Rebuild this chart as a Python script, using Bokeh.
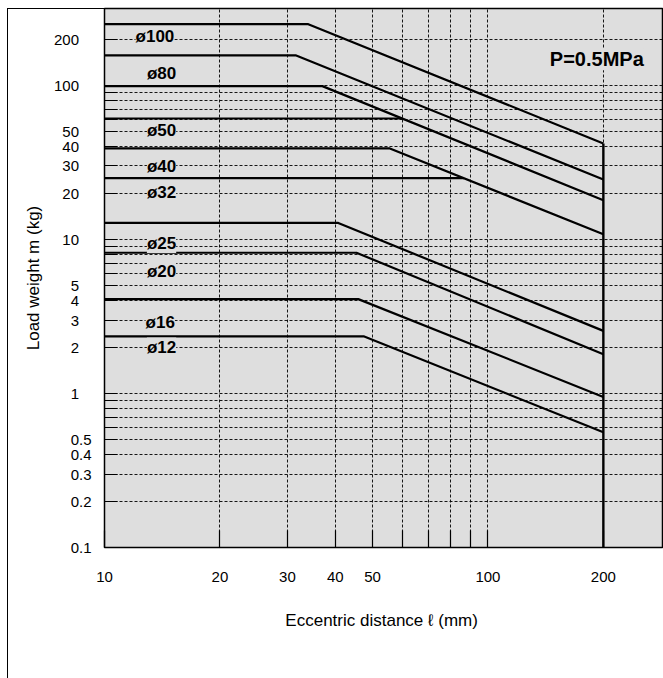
from bokeh.plotting import figure
from bokeh.models import (FixedTicker, NumeralTickFormatter, LabelSet, Label,
                          ColumnDataSource, Range1d, InlineStyleSheet)
from bokeh.core.properties import value
from bokeh.embed import file_html
from bokeh.resources import INLINE

# ---- data ----
bores = ["ø100", "ø80", "ø63", "ø50", "ø40", "ø32", "ø25", "ø20", "ø16", "ø12"]
max_load = [250, 157, 99, 61, 39, 25, 12.8, 8.2, 4.1, 2.35]          # kg (flat part)
bend_x = [34, 31.5, 37, 60, 55.5, 86.6, 40.7, 45.4, 45.9, 47.4]        # mm
end_load = [42, 24.5, 18, None, 10.8, None, 2.55, 1.8, 0.95, 0.56]     # kg at 200 mm
max_distance = 200
min_distance = 10
min_load = 0.1

x_major = [10, 20, 30, 40, 50, 100, 200]
x_minor = [60, 70, 80, 90]
y_int_labels = [1, 2, 3, 4, 5, 10, 20, 30, 40, 50, 100, 200]
y_dec_labels = [0.1, 0.2, 0.3, 0.4, 0.5]
y_grid = [0.2, 0.3, 0.4, 0.5, 0.6, 0.7, 0.8, 0.9, 1, 2, 3, 4, 5, 6, 7, 8, 9, 10,
          20, 30, 40, 50, 60, 70, 80, 90, 100, 200]
y_minor = [0.6, 0.7, 0.8, 0.9, 6, 7, 8, 9, 60, 70, 80, 90]

shown_labels = ["ø100", "ø80", "ø50", "ø40", "ø32", "ø25", "ø20", "ø16", "ø12"]
label_x = [12.05, 12.9, 12.9, 12.9, 12.9, 12.9, 12.9, 12.8, 12.9]
label_y = [207, 120, 51, 29.8, 20.2, 9.4, 6.2, 2.9, 2.0]

BG = "#dedede"
FONT = "Liberation Sans"

frame_css = InlineStyleSheet(css="""
:host { position: relative; }
:host::after {
  content: ""; position: absolute; left: 7px; top: 8px; right: 0; bottom: 0;
  border-left: 1.5px solid #000; border-top: 1.5px solid #000;
  pointer-events: none;
}
""")

p = figure(width=663, height=678, x_axis_type="log", y_axis_type="log",
           x_range=Range1d(10, 287), y_range=Range1d(0.1, 316),
           output_backend="svg", toolbar_location=None, title=None,
           min_border_left=104, min_border_top=8, min_border_right=0,
           min_border_bottom=131, stylesheets=[frame_css])

p.background_fill_color = BG
p.border_fill_color = "white"
p.outline_line_color = "black"
p.outline_line_width = 1.5

# grids
p.xgrid.ticker = FixedTicker(ticks=[20, 30, 40, 50, 60, 70, 80, 90, 100, 200])
p.ygrid.ticker = FixedTicker(ticks=y_grid)
for g in (p.xgrid, p.ygrid):
    g.grid_line_color = "black"
    g.grid_line_dash = "3 2"
    g.grid_line_width = 1
    g.grid_line_alpha = 0.9

# x axis
xa = p.xaxis[0]
xa.ticker = FixedTicker(ticks=x_major, minor_ticks=x_minor)
xa.formatter = NumeralTickFormatter(format="0")
xa.major_tick_in = 17
xa.major_tick_out = 0
xa.minor_tick_in = 17
xa.minor_tick_out = 0
xa.major_tick_line_width = 1.2
xa.minor_tick_line_width = 1.2
xa.axis_line_color = None
xa.major_label_standoff = 24
xa.major_label_text_font = FONT
xa.major_label_text_font_size = "15px"
xa.major_label_text_color = "black"
xa.axis_label = "Eccentric distance  ℓ (mm)"
xa.axis_label_text_font = FONT
xa.axis_label_text_font_size = "17px"
xa.axis_label_text_font_style = "normal"
xa.axis_label_text_color = "black"
xa.axis_label_standoff = 26

# y axis: decimal labels sit closer to the frame than the integer ones
ya = p.yaxis[0]
ya.ticker = FixedTicker(ticks=y_dec_labels + y_int_labels, minor_ticks=y_minor)
ya.formatter = NumeralTickFormatter(format="0.[0]")
ya.major_label_overrides = {v: f"{v}\u00a0\u00a0\u00a0" for v in y_int_labels}
ya.major_tick_in = 13
ya.major_tick_out = 0
ya.minor_tick_in = 13
ya.minor_tick_out = 0
ya.major_tick_line_width = 1.2
ya.minor_tick_line_width = 1.2
ya.axis_line_color = None
ya.major_label_standoff = 13
ya.major_label_text_font = FONT
ya.major_label_text_font_size = "15px"
ya.major_label_text_color = "black"
ya.axis_label = "Load weight m (kg)"
ya.axis_label_text_font = FONT
ya.axis_label_text_font_size = "17px"
ya.axis_label_text_font_style = "normal"
ya.axis_label_text_color = "black"
ya.axis_label_standoff = 8

# data lines
xs, ys = [], []
for m, b, e in zip(max_load, bend_x, end_load):
    if e is None:
        xs.append([min_distance, b])
        ys.append([m, m])
    else:
        xs.append([min_distance, b, max_distance])
        ys.append([m, m, e])
p.multi_line(xs, ys, line_color="black", line_width=2.2)
p.segment(x0=[max_distance], y0=[min_load], x1=[max_distance], y1=[end_load[0]],
          line_color="black", line_width=2.4)

# bore labels
lab_src = ColumnDataSource(dict(x=label_x, y=label_y, t=shown_labels))
p.add_layout(LabelSet(x="x", y="y", text="t", source=lab_src,
                      text_align="left", text_baseline="middle",
                      text_font=value(FONT), text_font_size=value("17px"),
                      text_font_style=value("bold"),
                      text_color="black", background_fill_color=BG))

p.add_layout(Label(x=145, y=148, text="P=0.5MPa", text_align="left",
                   text_baseline="middle", text_font=FONT, text_font_size="20px",
                   text_font_style="bold", text_color="black",
                   background_fill_color=BG))

open("out.html", "w").write(file_html(p, INLINE))
